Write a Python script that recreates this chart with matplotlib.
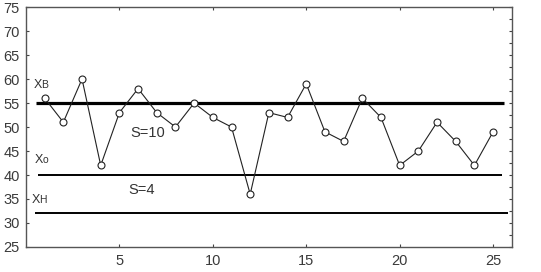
import numpy as np
import matplotlib
matplotlib.use('Agg')
import matplotlib.pyplot as plt
from matplotlib import rcParams
from matplotlib.ticker import MultipleLocator

rcParams['font.family'] = ['Liberation Sans', 'DejaVu Sans']
rcParams['font.size'] = 10

samples = np.arange(1, 26)
values = [56, 51, 60, 42, 53, 58, 53, 50, 55, 52, 50, 36, 53,
          52, 59, 49, 47, 56, 52, 42, 45, 51, 47, 42, 49]

x_upper = 55   # Xв
x_mean = 40    # Xо
x_lower = 32   # Xн

fig = plt.figure(figsize=(5.41, 2.72), dpi=100)
ax = fig.add_axes([0.048, 0.092, 0.898, 0.882])

ax.hlines(x_upper, 0.55, 25.6, colors='k', linewidth=2.3)
ax.hlines(x_mean, 0.65, 25.5, colors='k', linewidth=1.4)
ax.hlines(x_lower, 0.5, 25.8, colors='k', linewidth=1.4)

ax.plot(samples, values, color='#222222', linewidth=0.8, marker='o',
        markersize=5, markerfacecolor='white', markeredgecolor='#222222',
        markeredgewidth=0.8)

# labels of the control lines: X with a small letter right after it
txt = dict(color='#333333', fontsize=10.5)
big = dict(color='#333333', fontsize=9, va='baseline')
sub = dict(color='#333333', fontsize=7.5, va='baseline')
ax.text(0.42, 58.1, 'X', **big)
ax.text(0.82, 58.1, 'В', **sub)
ax.text(0.47, 42.4, 'X', **big)
ax.text(0.87, 42.4, 'о', **sub)
ax.text(0.32, 34.2, 'X', **big)
ax.text(0.72, 34.2, 'Н', **sub)
ax.text(6.5, 48.8, 'S=10', ha='center', va='center', **txt)
ax.text(6.2, 36.9, 'S=4', ha='center', va='center', **txt)

ax.set_xlim(0, 26)
ax.set_ylim(25, 75)
ax.xaxis.set_major_locator(MultipleLocator(5))
ax.yaxis.set_major_locator(MultipleLocator(5))
ax.yaxis.set_minor_locator(MultipleLocator(2.5))
ax.set_xticks([5, 10, 15, 20, 25])

ax.tick_params(axis='both', which='both', direction='in', top=True,
               right=True, length=2, width=0.8, colors='#444444',
               labelcolor='#3a3a3a', labelsize=10.5)
ax.tick_params(axis='y', which='minor', left=False, right=True, length=2)
ax.tick_params(axis='x', pad=5)
ax.tick_params(axis='y', pad=4.5)

for s in ax.spines.values():
    s.set_color('#555555')
    s.set_linewidth(1.0)

fig.savefig('out.png', dpi=100)
